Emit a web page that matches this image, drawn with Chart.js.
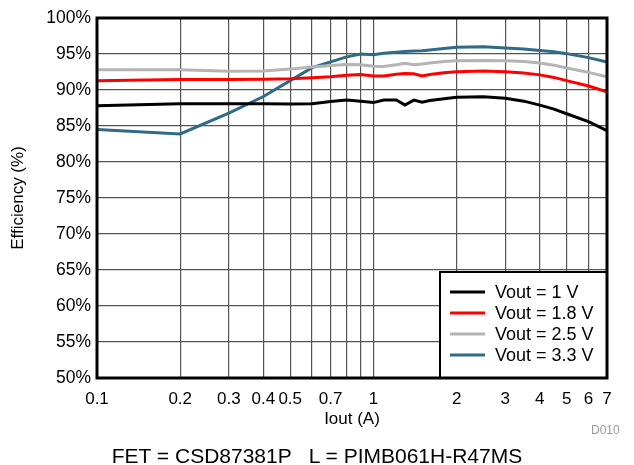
<!DOCTYPE html>
<html><head><meta charset="utf-8">
<script src="https://cdn.jsdelivr.net/npm/chart.js@4/dist/chart.umd.min.js"></script>
<style>
html,body{margin:0;padding:0;background:#fff;}
#wrap{position:relative;width:634px;height:465px;overflow:hidden;}
canvas{position:absolute;left:0;top:0;}
#d010{position:absolute;left:591px;top:423px;font:12px "Liberation Sans",Arial,sans-serif;color:#9a9a9a;}
#foot{position:absolute;left:0;width:634px;top:444px;text-align:center;font:21px "Liberation Sans",Arial,sans-serif;color:#000;white-space:pre;}
</style></head>
<body><div id="wrap"><canvas id="c" width="634" height="465"></canvas><div id="d010">D010</div><div id="foot">FET = CSD87381P   L = PIMB061H-R47MS</div></div>
<script>
const iout = [0.1,0.2,0.3,0.4,0.5,0.6,0.7,0.8,0.9,1.0,1.09,1.21,1.3,1.4,1.5,1.6,1.8,2.0,2.5,3,3.5,4,4.5,5,6,7];
const eff1V  = [87.8,88.1,88.1,88.1,88.05,88.1,88.4,88.6,88.45,88.25,88.6,88.6,87.9,88.6,88.3,88.55,88.8,89.0,89.05,88.85,88.45,87.9,87.35,86.7,85.6,84.35];
const eff18V = [91.3,91.45,91.45,91.5,91.55,91.7,91.85,92.05,92.15,91.95,91.95,92.2,92.3,92.25,91.95,92.15,92.4,92.55,92.65,92.55,92.35,92.1,91.75,91.3,90.55,89.75];
const eff25V = [92.8,92.8,92.6,92.65,92.9,93.2,93.4,93.55,93.5,93.3,93.25,93.5,93.7,93.5,93.6,93.75,93.95,94.05,94.1,94.05,93.95,93.75,93.45,93.05,92.45,91.85];
const eff33V = [84.5,83.9,86.8,89.1,91.3,93.1,93.9,94.6,95.0,94.9,95.1,95.25,95.35,95.4,95.45,95.55,95.75,95.95,96.0,95.85,95.7,95.5,95.3,95.05,94.5,93.9];
const seriesLabels = ['Vout = 1 V','Vout = 1.8 V','Vout = 2.5 V','Vout = 3.3 V'];
const seriesColors = ['#000000','#ff0000','#b4b4b4','#2f6a86'];
const xGridValues = [0.1,0.2,0.3,0.4,0.5,0.6,0.7,0.8,0.9,1,2,3,4,5,6,7];
const xTickLabels = [0.1,0.2,0.3,0.4,0.5,0.7,1,2,3,4,5,6,7];
const yMin = 50, yMax = 100, yStep = 5;

const FONT = '"Liberation Sans", Arial, sans-serif';
const allSeries = [eff1V, eff18V, eff25V, eff33V];
const datasets = allSeries.map((s, i) => ({
  label: seriesLabels[i],
  data: iout.map((x, j) => ({x: x, y: s[j]})),
  borderColor: seriesColors[i],
  backgroundColor: seriesColors[i],
  borderWidth: 3,
  pointRadius: 0,
  tension: 0,
  fill: false
}));

const framePlugin = {
  id: 'frame',
  afterDatasetsDraw(chart) {
    const {ctx, chartArea: a} = chart;
    ctx.save();
    const lw = 167, lh = 106;
    const lx = a.right - lw, ly = a.bottom - lh;
    ctx.fillStyle = '#fff';
    ctx.fillRect(lx, ly, lw, lh);
    ctx.strokeStyle = '#000';
    ctx.lineWidth = 2;
    ctx.strokeRect(lx, ly, lw, lh);
    ctx.font = '18px ' + FONT;
    ctx.textBaseline = 'middle';
    ctx.textAlign = 'left';
    chart.data.datasets.forEach((d, i) => {
      const y = ly + 20 + i * 21;
      ctx.strokeStyle = d.borderColor;
      ctx.lineWidth = 3;
      ctx.beginPath();
      ctx.moveTo(lx + 10, y);
      ctx.lineTo(lx + 45, y);
      ctx.stroke();
      ctx.fillStyle = '#000';
      ctx.fillText(d.label, lx + 55, y + 1);
    });
    ctx.strokeStyle = '#000';
    ctx.lineWidth = 3;
    ctx.strokeRect(a.left, a.top, a.right - a.left, a.bottom - a.top);
    ctx.restore();
  }
};

new Chart(document.getElementById('c'), {
  type: 'line',
  data: {datasets},
  plugins: [framePlugin],
  options: {
    responsive: false,
    animation: false,
    layout: {padding: {left: 0, right: 27, top: 18, bottom: 0}},
    plugins: {legend: {display: false}, tooltip: {enabled: false}},
    scales: {
      x: {
        type: 'logarithmic',
        min: 0.1, max: 7,
        afterFit(s) { s.height = 87; },
        afterBuildTicks(s) { s.ticks = xGridValues.map(v => ({value: v})); },
        grid: {color: '#555', lineWidth: 1.2, drawTicks: false},
        border: {display: false},
        ticks: {
          autoSkip: false, maxRotation: 0, padding: 11, color: '#000',
          font: {family: FONT, size: 17},
          callback(v) { return xTickLabels.includes(v) ? String(v) : ''; }
        },
        title: {display: true, text: 'Iout (A)', color: '#000', font: {family: FONT, size: 17}, padding: {top: 0, bottom: 35}}
      },
      y: {
        min: yMin, max: yMax,
        afterFit(s) { s.width = 97; },
        grid: {color: '#555', lineWidth: 1.2, drawTicks: false},
        border: {display: false},
        ticks: {
          stepSize: yStep, padding: 6, color: '#000',
          font: {family: FONT, size: 17.5},
          callback(v) { return v + '%'; }
        },
        title: {display: true, text: 'Efficiency (%)', color: '#000', font: {family: FONT, size: 17}, padding: {top: 8, bottom: 0}}
      }
    }
  }
});
</script>
</body></html>
